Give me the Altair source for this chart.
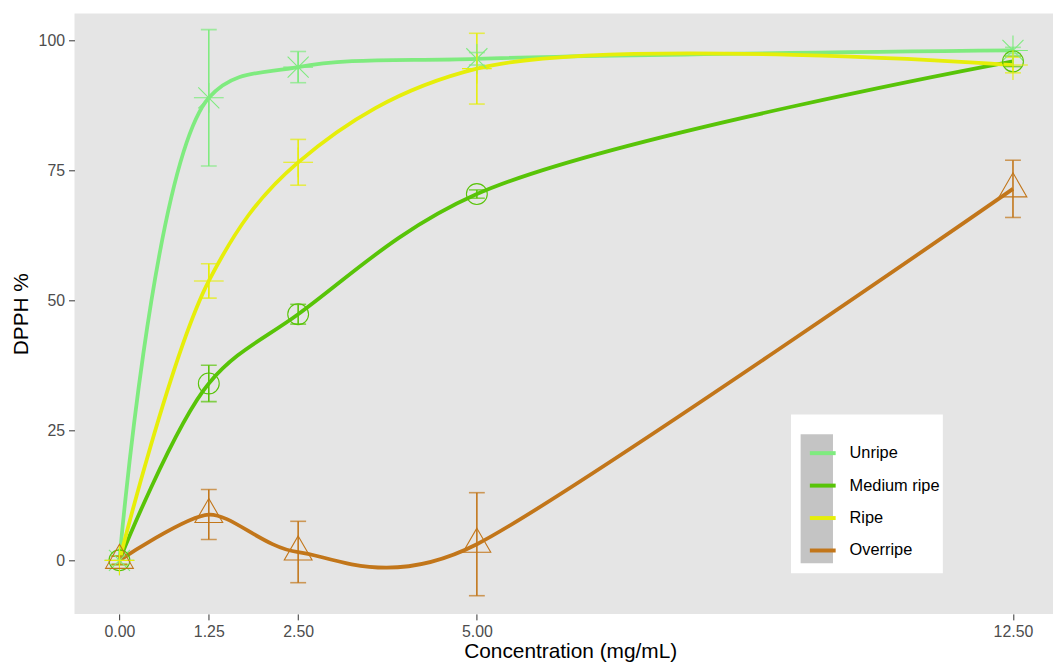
import altair as alt
import pandas as pd

# ---- data ----
concentration = [0.0, 1.25, 2.5, 5.0, 12.5]
series_names = ["Unripe", "Medium ripe", "Ripe", "Overripe"]

unripe_mean = [0.0, 88.9, 94.8, 96.4, 98.0]
unripe_sd = [0.8, 13.1, 3.0, 1.2, 0.6]
medium_mean = [0.0, 34.0, 47.3, 70.4, 95.9]
medium_sd = [0.8, 3.5, 1.9, 0.8, 1.0]
ripe_mean = [0.0, 53.7, 76.5, 94.5, 95.2]
ripe_sd = [0.8, 3.3, 4.4, 6.8, 1.5]
over_mean = [0.0, 8.8, 1.6, 3.1, 71.4]
over_sd = [0.8, 4.8, 5.9, 9.9, 5.5]

x_ticks = [0.0, 1.25, 2.5, 5.0, 12.5]
y_ticks = [0, 25, 50, 75, 100]

colors = ["#7FEB7F", "#58C408", "#E6EE0A", "#C2761A"]
asterisk = "M-1,0L1,0M0,-1L0,1M-0.707,-0.707L0.707,0.707M-0.707,0.707L0.707,-0.707"
plus = "M-1,0L1,0M0,-1L0,1"
triangle = "M0,-1L0.866,0.5L-0.866,0.5Z"
shapes = [asterisk, "circle", plus, triangle]
sizes = [900, 441, 900, 1045]

rows = []
for name, means, sds in zip(series_names,
                            [unripe_mean, medium_mean, ripe_mean, over_mean],
                            [unripe_sd, medium_sd, ripe_sd, over_sd]):
    for c, m, s in zip(concentration, means, sds):
        rows.append({"conc": c, "series": name, "mean": m, "sd": s})
df = pd.DataFrame(rows)
box = pd.DataFrame({"k": [0]})

FONT = "Liberation Sans"
x_scale = alt.Scale(domain=[-0.629, 13.06], nice=False, zero=False)
y_scale = alt.Scale(domain=[-10.3, 105.1], nice=False, zero=False)
color_scale = alt.Scale(domain=series_names, range=colors)

x_enc = alt.X("conc:Q", scale=x_scale,
              axis=alt.Axis(values=x_ticks, format=".2f", title="Concentration (mg/mL)",
                            titleX=499.5, titleY=43.5, titleAlign="center",
                            titleBaseline="alphabetic"))
y_enc = alt.Y("mean:Q", scale=y_scale,
              axis=alt.Axis(values=y_ticks, format="d", title="DPPH %",
                            titleX=-53, titleY=302.5, titleAlign="center",
                            titleBaseline="middle", titleAngle=270))

base = alt.Chart(df)

white_box = alt.Chart(box).mark_rect(color="white").encode(
    x=alt.value(722), x2=alt.value(875), y=alt.value(404), y2=alt.value(564))
grey_keys = alt.Chart(box).mark_rect(color="#C4C4C4").encode(
    x=alt.value(731.7), x2=alt.value(764.3), y=alt.value(424), y2=alt.value(554))

legend = alt.Legend(title=None, orient="none", legendX=739, legendY=428,
                    symbolType="stroke", symbolStrokeWidth=4,
                    symbolSize=676, labelFontSize=16.5, labelOffset=12,
                    rowPadding=8.7, labelFont=FONT, labelColor="black",
                    padding=0, labelLimit=300)

lines = base.transform_filter(alt.datum.series != "Overripe").mark_line(
    interpolate="catmull-rom", strokeWidth=3.8).encode(
    x=x_enc, y=y_enc,
    color=alt.Color("series:N", scale=color_scale, sort=series_names, legend=legend),
    detail="series:N",
)
line_over = base.transform_filter(alt.datum.series == "Overripe").mark_line(
    interpolate="cardinal", tension=0.25, strokeWidth=3.8).encode(
    x="conc:Q", y="mean:Q",
    color=alt.Color("series:N", scale=color_scale, sort=series_names, legend=legend),
)

err_base = base.transform_calculate(lo="datum.mean - datum.sd", hi="datum.mean + datum.sd")
err_color = alt.Color("series:N", scale=color_scale, legend=None)
err_rules = err_base.mark_rule(strokeWidth=1.6).encode(
    x="conc:Q", y="lo:Q", y2="hi:Q", color=err_color)
cap_lo = err_base.mark_tick(size=16, thickness=1.6, orient="horizontal").encode(
    x="conc:Q", y="lo:Q", color=err_color)
cap_hi = err_base.mark_tick(size=16, thickness=1.6, orient="horizontal").encode(
    x="conc:Q", y="hi:Q", color=err_color)

point_layers = []
for name, col, shp, sz in zip(series_names, colors, shapes, sizes):
    point_layers.append(
        base.transform_filter(alt.datum.series == name).mark_point(
            filled=False, strokeWidth=1.1, opacity=1, shape=shp, size=sz, color=col
        ).encode(x="conc:Q", y="mean:Q")
    )

chart = alt.layer(white_box, grey_keys, lines, line_over, err_rules, cap_lo, cap_hi,
                  *point_layers).properties(
    width=986, height=605,
    background="white",
    autosize=alt.AutoSizeParams(type="none"),
    padding={"left": 67, "top": 3, "right": 0, "bottom": 60},
).configure_view(fill="#E5E5E5", stroke=None).configure_axis(
    grid=False, domain=False, tickColor="#333333", tickSize=6,
    labelColor="#4D4D4D", labelFontSize=16, labelFont=FONT, labelPadding=4,
    titleFont=FONT, titleFontSize=21, titleFontWeight="normal", titleColor="black",
)

chart.save("out.html", embed_options={"renderer": "svg", "actions": False})
